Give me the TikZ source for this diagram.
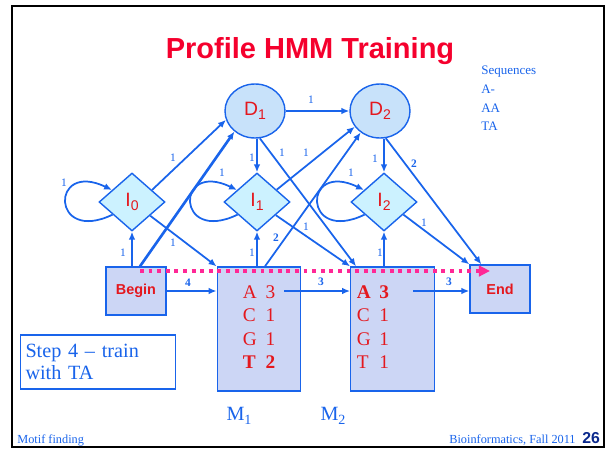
\documentclass[tikz,border=0pt]{standalone}
\usepackage{fontspec}
\setmainfont{Liberation Serif}
\newfontfamily\arialfont{Liberation Sans}
\usetikzlibrary{shapes,shapes.geometric,arrows.meta,calc}

\definecolor{hmmblue}{RGB}{25,100,235}
\definecolor{hmmred}{RGB}{228,24,30}
\definecolor{titlered}{RGB}{245,0,45}
\definecolor{dfill}{RGB}{200,226,250}
\definecolor{ifill}{RGB}{204,242,255}
\definecolor{mfill}{RGB}{204,214,245}
\definecolor{dotpink}{RGB}{255,40,150}
\definecolor{pagenum}{RGB}{10,40,140}

\newcommand{\lowsub}[1]{\raisebox{-0.45ex}{\fontsize{8}{8}\selectfont #1}}

\begin{document}
\begin{tikzpicture}[x=0.02cm,y=-0.02cm]
  \tikzstyle{dstate}=[ellipse, draw=hmmblue, line width=0.8pt, fill=dfill, minimum width=1.2cm, minimum height=1.08cm, inner sep=0pt, text=hmmred, font=\arialfont\fontsize{11}{12}\selectfont]
  \tikzstyle{istate}=[diamond, draw=hmmblue, line width=0.8pt, fill=ifill, minimum width=1.32cm, minimum height=1.16cm, inner sep=0pt, text=hmmred, font=\arialfont\fontsize{11}{12}\selectfont]
  \tikzstyle{endstate}=[rectangle, draw=hmmblue, line width=0.8pt, fill=mfill, minimum width=1.2cm, minimum height=0.96cm, text=hmmred, font=\arialfont\bfseries\fontsize{8.2}{9}\selectfont]
  \tikzstyle{mstate}=[rectangle, draw=hmmblue, line width=0.8pt, fill=mfill, minimum width=1.67cm, minimum height=2.48cm, inner sep=0pt, text=hmmred, font=\fontsize{11}{13.3}\selectfont]
  \tikzstyle{notebox}=[rectangle, draw=hmmblue, line width=0.8pt, fill=white, text=hmmblue, text width=2.9cm, inner xsep=0.1cm, minimum height=1.08cm, align=left, font=\fontsize{11.5}{12.5}\selectfont]
  \tikzstyle{trans}=[draw=hmmblue, line width=1pt, -{Latex[length=4.5pt,width=3.8pt]}]
  \tikzstyle{prob}=[text=hmmblue, inner sep=0pt, font=\fontsize{6.5}{7}\selectfont]
  \tikzstyle{bprob}=[prob, font=\bfseries\fontsize{6.5}{7}\selectfont]
  \tikzstyle{plain}=[text=hmmblue, inner sep=0pt]
  \tikzstyle{trainline}=[draw=dotpink, line width=2pt, dash pattern=on 2.2pt off 2.7pt, -{Triangle[length=6.3pt,width=6pt]}]

  \useasboundingbox (0,0) rectangle (609,450);
  \draw[line width=1.5pt] (12,6) rectangle (604,447);

  \node[text=titlered, font=\arialfont\bfseries\fontsize{16.5}{18}\selectfont] (title) at (310,51) {Profile HMM Training};
  \foreach \s/\y/\t in {seq/74/Sequences, s1/93/A-, s2/112/AA, s3/130/TA}
    \node[plain, anchor=base west, font=\fontsize{7.4}{8}\selectfont] (\s) at (481,\y) {\t};

  \node[dstate] (D1) at (255,111) {D\lowsub{1}};
  \node[dstate] (D2) at (380,111) {D\lowsub{2}};
  \node[istate] (I0) at (132,202) {I\lowsub{0}};
  \node[istate] (I1) at (257,202) {I\lowsub{1}};
  \node[istate] (I2) at (384,202) {I\lowsub{2}};
  \node[endstate] (Begin) at (136,291) {Begin};
  \node[endstate] (End) at (500,289) {End};
  \node[mstate] (M1) at (259,329) {\begin{tabular}{@{}l@{\hspace{5pt}}l@{}}A&3\\C&1\\G&1\\\textbf{T}&\textbf{2}\end{tabular}};
  \node[mstate, text width=1.43cm, inner xsep=0.12cm, align=left] (M2) at (392.5,329) {\noindent\begin{tabular}{@{}l@{\hspace{5pt}}l@{}}\textbf{A}&\textbf{3}\\C&1\\G&1\\T&1\end{tabular}};

  \node[notebox] (step) at (98,362) {Step 4 -- train\\with TA};
  \node[plain, font=\fontsize{11.5}{12}\selectfont] (m1lab) at (239,416) {M\lowsub{1}};
  \node[plain, font=\fontsize{11.5}{12}\selectfont] (m2lab) at (333,416) {M\lowsub{2}};

  \node[plain, anchor=base west, font=\fontsize{7}{8}\selectfont] (foot1) at (17,443) {Motif finding};
  \node[plain, anchor=base west, font=\fontsize{7}{8}\selectfont] (foot2) at (449,443) {Bioinformatics, Fall 2011};
  \node[anchor=base west, inner sep=0pt, text=pagenum, font=\arialfont\bfseries\fontsize{9}{10}\selectfont] (page) at (582,443) {26};

  \coordinate (m1out) at (284,291);
  \coordinate (m2out) at (413,291);
  \coordinate (trainA) at (140,271);
  \coordinate (trainB) at (490,271);

  \draw[trans] (D1.east) -- (D2.west);
  \draw[trans] (I0.31) -- (D1.197);
  \draw[trans, line width=1.5pt] ($(Begin.north)+(4,0)$) -- (D1.225);
  \draw[trans] (I0.south |- Begin.north) -- (I0.south);
  \draw[trans] (I0.-37) -- (M1.north west);
  \draw[trans] (Begin.east) -- (Begin.east -| M1.west);
  \draw[trans] (I1.north |- D1.south) -- (I1.north);
  \draw[trans] (D1.-80) -- ($(M2.north west)+(6,0)$);
  \draw[trans] (I1.32) -- (D2.212);
  \draw[trans] ($(M1.north)+(6,0)$) -- (D2.228);
  \draw[trans] (I1.south |- M1.north) -- (I1.south);
  \draw[trans] (I1.-35) -- (M2.north west);
  \draw[trans] (m1out) -- (m1out -| M2.west);
  \draw[trans] (I2.north |- D2.south) -- (I2.north);
  \draw[trans] (D2.-78) -- ($(End.north west)+(12,0)$);
  \draw[trans] (I2.-33) -- (End.north west);
  \draw[trans] (I2.south |- M2.north) -- (I2.south);
  \draw[trans] (m2out) -- (m2out -| End.west);
  \foreach \n in {I0,I1,I2}
    \draw[trans] (\n.213) .. controls +(-62,30) and +(-62,-30) .. (\n.149);

  \foreach \l/\x/\y in {d1d2/311/100, i0i0/64/183, i0d1/173/158, bi0/123/253, i0m1/173/243, d1i1/252/158, i1i1/222/173, m1i1/252/253, d1m2/282/153, i1d2/306/153, i1m2/306/227, d2i2/375/159, i2i2/351/173, i2e/424/223, m2i2/380/253}
    \node[prob] (w\l) at (\x,\y) {1};
  \node[bprob] (wbm1) at (188,283) {4};
  \node[bprob] (wm1m2) at (321,282) {3};
  \node[bprob] (wm2e) at (449,282) {3};
  \node[bprob] (wm1d2) at (276,238) {2};
  \node[bprob] (wd2e) at (414,164) {2};

  \draw[trainline] (trainA) -- (trainB);
\end{tikzpicture}
\end{document}
